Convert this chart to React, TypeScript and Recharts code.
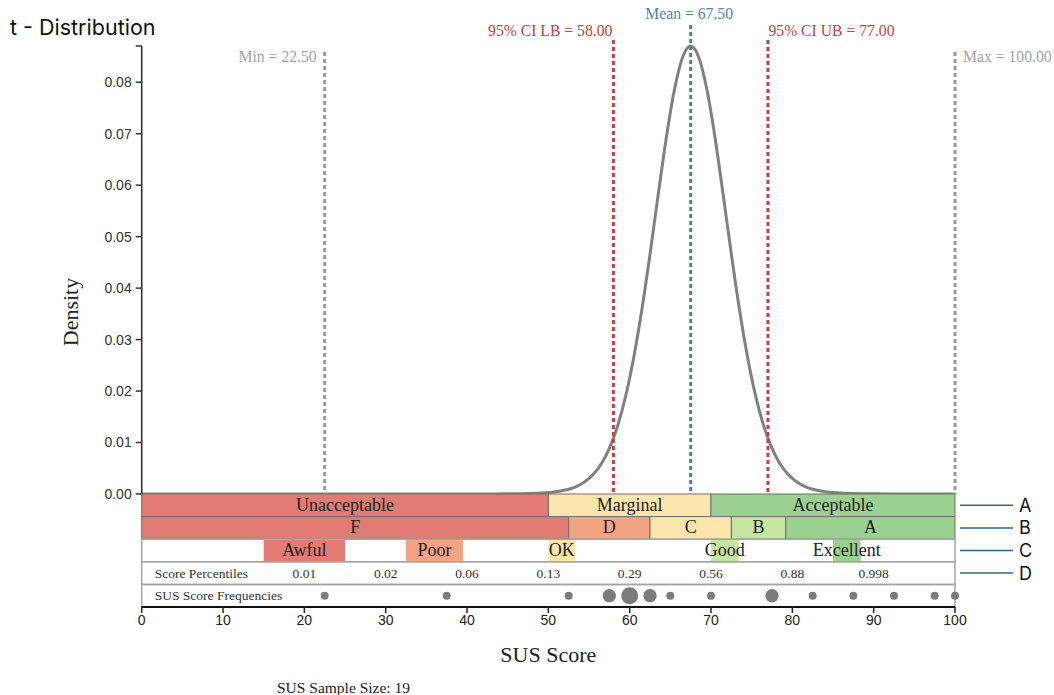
import React from 'react';
import {
  ComposedChart,
  Line,
  XAxis,
  YAxis,
  ZAxis,
  ReferenceLine,
  ReferenceArea,
  Scatter,
} from 'recharts';

// ---------- data ----------
const curveScores = [
  0, 10, 20, 30, 35, 40, 42.5, 45, 47.5, 49.5, 51.5, 52.5, 53.5, 54.5, 55.5, 56.5, 57.5, 58.5,
  59.5, 60.5, 61.5, 62.5, 63.5, 64.5, 65.5, 66.5, 67.5, 68.5, 69.5, 70.5, 71.5, 72.5, 73.5,
  74.5, 75.5, 76.5, 77.5, 78.5, 79.5, 80.5, 81.5, 82.5, 83.5, 85.5, 87.5, 90, 92.5, 95, 100,
];
const curveDensities = [
  0, 0, 0, 0, 0, 0, 0.00001, 0.00003, 0.00008, 0.00022, 0.00058, 0.00093, 0.0015, 0.0024,
  0.00377, 0.00584, 0.00886, 0.01314, 0.01896, 0.02653, 0.03584, 0.0466, 0.05808, 0.06918,
  0.07854, 0.08482, 0.08704, 0.08482, 0.07854, 0.06918, 0.05808, 0.0466, 0.03584, 0.02653,
  0.01896, 0.01314, 0.00886, 0.00584, 0.00377, 0.0024, 0.0015, 0.00093, 0.00058, 0.00022,
  0.00008, 0.00003, 0.00001, 0, 0,
];

const yTickValues = [0, 0.01, 0.02, 0.03, 0.04, 0.05, 0.06, 0.07, 0.08];
const xTickValues = [0, 10, 20, 30, 40, 50, 60, 70, 80, 90, 100];

const statNames = ['Min', '95% CI LB', 'Mean', '95% CI UB', 'Max'];
const statValues = [22.5, 58, 67.5, 77, 100];

const acceptLabels = ['Unacceptable', 'Marginal', 'Acceptable'];
const acceptStarts = [0, 50, 70];
const acceptEnds = [50, 70, 100];

const gradeLabels = ['F', 'D', 'C', 'B', 'A'];
const gradeStarts = [0, 52.5, 62.5, 72.5, 79.2];
const gradeEnds = [52.5, 62.5, 72.5, 79.2, 100];

const adjLabels = ['Awful', 'Poor', 'OK', 'Good', 'Excellent'];
const adjStarts = [15, 32.5, 50, 70, 85];
const adjEnds = [25, 39.5, 53.3, 73.4, 88.4];

const pctScores = [20, 30, 40, 50, 60, 70, 80, 90];
const pctLabels = ['0.01', '0.02', '0.06', '0.13', '0.29', '0.56', '0.88', '0.998'];

const freqScores = [22.5, 37.5, 52.5, 57.5, 60, 62.5, 65, 70, 77.5, 82.5, 87.5, 92.5, 97.5, 100];
const freqCounts = [1, 1, 1, 2, 3, 2, 1, 1, 2, 1, 1, 1, 1, 1];

const sampleSize = 19;
const rowMarkers = ['A', 'B', 'C', 'D'];

// ---------- derived tables ----------
const curveData = curveScores.map((x, i) => ({ x, density: curveDensities[i] }));
const yMax = Math.max(...curveDensities);
const yTicks = [...yTickValues, yMax];
const pctData = pctScores.map((x, i) => ({ x, y: 3.5, label: pctLabels[i] }));
const freqData = freqScores.map((x, i) => ({ x, y: 4.5, n: freqCounts[i] }));

// ---------- styles ----------
const SERIF = '"Liberation Serif", "Times New Roman", serif';
const SANS = '"Liberation Sans", Arial, sans-serif';
const RED = '#E27B73';
const SALMON = '#F4A384';
const YELLOW = '#FDE6AB';
const LGREEN = '#C6E5A0';
const GREEN = '#9BD190';
const acceptColors = [RED, YELLOW, GREEN];
const gradeColors = [RED, SALMON, YELLOW, LGREEN, GREEN];
const adjColors = [RED, SALMON, YELLOW, LGREEN, GREEN];

type StatStyle = {
  color: string;
  textColor: string;
  topOffset: number;
  dx: number;
  dy: number;
  anchor: 'start' | 'middle' | 'end';
};
const statStyles: StatStyle[] = [
  { color: '#9a9a9a', textColor: '#a3a3a3', topOffset: 6, dx: -8, dy: 10, anchor: 'end' },
  { color: '#D23A3E', textColor: '#C9403F', topOffset: -6, dx: -1, dy: -4.5, anchor: 'end' },
  { color: '#4A7DB2', textColor: '#5B82AD', topOffset: -21, dx: -1.5, dy: -6.5, anchor: 'middle' },
  { color: '#D23A3E', textColor: '#C9403F', topOffset: -6, dx: 0.5, dy: -4.5, anchor: 'start' },
  { color: '#9a9a9a', textColor: '#a3a3a3', topOffset: 6, dx: 8, dy: 10, anchor: 'start' },
];

const makeStatShape = (name: string, value: number, st: StatStyle) => (props: any) => {
  const { x1, y1, y2 } = props;
  const top = Math.min(y1, y2);
  const bottom = Math.max(y1, y2);
  const lineTop = top + st.topOffset;
  return (
    <g>
      <line
        x1={x1}
        x2={x1}
        y1={lineTop}
        y2={bottom}
        stroke={st.color}
        strokeWidth={3}
        strokeDasharray="4 3"
      />
      <text
        x={x1 + st.dx}
        y={lineTop + st.dy}
        textAnchor={st.anchor}
        fill={st.textColor}
        fontFamily={SERIF}
        fontSize={15.7}
      >
        {`${name} = ${value.toFixed(2)}`}
      </text>
    </g>
  );
};

const PLOT_LEFT = 141.7;
const PLOT_RIGHT_MARGIN = 1054 - 955;
const BAND_TOP = 494;
const ROW_H = 22.6;
const bandLabelStyle = { position: 'center', fontSize: 18, fill: '#222', fontFamily: SERIF, dy: -1 };

export default function App() {
  return (
    <div
      style={{
        position: 'absolute',
        left: 0,
        top: 0,
        width: 1054,
        height: 695,
        background: '#fff',
        overflow: 'hidden',
      }}
    >
      {/* density chart */}
      <div style={{ position: 'absolute', left: 0, top: 0 }}>
        <ComposedChart
          width={1054}
          height={512}
          data={curveData}
          margin={{ top: 46, right: PLOT_RIGHT_MARGIN, bottom: 18, left: PLOT_LEFT - 80 }}
        >
          <XAxis type="number" dataKey="x" domain={[0, 100]} hide height={0} />
          <YAxis
            type="number"
            width={80}
            domain={[0, yMax]}
            ticks={yTicks}
            interval={0}
            tickMargin={4}
            tickFormatter={(v: number) => (v === yMax ? '' : v.toFixed(2))}
            tick={{ fontSize: 14, fill: '#333', fontFamily: SANS }}
            tickLine={{ stroke: '#333', strokeWidth: 1.5 }}
            axisLine={{ stroke: '#333', strokeWidth: 1.6 }}
          />
          <Line
            type="monotone"
            dataKey="density"
            stroke="#808080"
            strokeWidth={3}
            dot={false}
            activeDot={false}
            isAnimationActive={false}
          />
          {statValues.map((v, i) => (
            <ReferenceLine
              key={statNames[i]}
              x={v}
              stroke={statStyles[i].color}
              shape={makeStatShape(statNames[i], v, statStyles[i])}
            />
          ))}
        </ComposedChart>
      </div>

      {/* bands chart */}
      <div style={{ position: 'absolute', left: 0, top: BAND_TOP - 4 }}>
        <ComposedChart
          width={1054}
          height={205}
          margin={{ top: 4, right: PLOT_RIGHT_MARGIN, bottom: 0, left: PLOT_LEFT }}
        >
          <XAxis
            type="number"
            dataKey="x"
            domain={[0, 100]}
            ticks={xTickValues}
            interval={0}
            height={88}
            tick={{ fontSize: 14, fill: '#222', fontFamily: SANS }}
            tickLine={{ stroke: '#222', strokeWidth: 1.5 }}
            axisLine={{ stroke: '#111', strokeWidth: 2 }}
            label={{
              value: 'SUS Score',
              position: 'insideTop',
              offset: 39,
              fontSize: 22,
              fill: '#222',
              fontFamily: SERIF,
            }}
          />
          <YAxis type="number" dataKey="y" domain={[0, 5]} reversed hide width={0} />
          <ZAxis type="number" dataKey="n" domain={[1, 3]} range={[50, 227]} />

          {acceptLabels.map((lab, i) => (
            <ReferenceArea
              key={'a' + lab}
              x1={acceptStarts[i]}
              x2={acceptEnds[i]}
              y1={0}
              y2={1}
              fill={acceptColors[i]}
              fillOpacity={1}
              stroke="#6e6e6e"
              strokeWidth={1}
              label={{ value: lab, ...bandLabelStyle } as any}
            />
          ))}
          {gradeLabels.map((lab, i) => (
            <ReferenceArea
              key={'g' + lab}
              x1={gradeStarts[i]}
              x2={gradeEnds[i]}
              y1={1}
              y2={2}
              fill={gradeColors[i]}
              fillOpacity={1}
              stroke="#6e6e6e"
              strokeWidth={1}
              label={{ value: lab, ...bandLabelStyle } as any}
            />
          ))}
          {adjLabels.map((lab, i) => (
            <ReferenceArea
              key={'j' + lab}
              x1={adjStarts[i]}
              x2={adjEnds[i]}
              y1={2}
              y2={3}
              fill={adjColors[i]}
              fillOpacity={1}
              stroke="none"
              label={{ value: lab, ...bandLabelStyle } as any}
            />
          ))}
          <ReferenceArea x1={0} x2={100} y1={2} y2={3} fill="none" stroke="#a5a5a5" strokeWidth={1.5} />
          <ReferenceArea
            x1={0}
            x2={100}
            y1={3}
            y2={4}
            fill="none"
            stroke="#a5a5a5"
            strokeWidth={1.5}
            label={{
              value: 'Score Percentiles',
              position: 'insideLeft',
              offset: 13,
              fontSize: 13.5,
              fill: '#333',
              fontFamily: SERIF,
            }}
          />
          <ReferenceArea
            x1={0}
            x2={100}
            y1={4}
            y2={5}
            fill="none"
            stroke="#a5a5a5"
            strokeWidth={1.5}
            label={{
              value: 'SUS Score Frequencies',
              position: 'insideLeft',
              offset: 13,
              fontSize: 13.5,
              fill: '#333',
              fontFamily: SERIF,
            }}
          />
          <Scatter
            data={pctData}
            isAnimationActive={false}
            shape={(p: any) => (
              <text
                x={p.cx}
                y={p.cy}
                textAnchor="middle"
                dominantBaseline="central"
                fontSize={13.5}
                fill="#333"
                fontFamily={SERIF}
              >
                {p.payload.label}
              </text>
            )}
          />
          <Scatter data={freqData} fill="#7b7b7b" isAnimationActive={false} />
        </ComposedChart>
      </div>

      {/* annotations */}
      <svg
        width={1054}
        height={695}
        style={{ position: 'absolute', left: 0, top: 0, pointerEvents: 'none' }}
      >
        <text x={10} y={35} fontFamily="Inter, 'Noto Sans', sans-serif" fontSize={21.5} fill="#111">
          t - Distribution
        </text>
        <text
          transform="translate(70,312) rotate(-90)"
          textAnchor="middle"
          dominantBaseline="central"
          fontFamily={SERIF}
          fontSize={22}
          fill="#222"
        >
          Density
        </text>
        {rowMarkers.map((m, i) => {
          const cy = BAND_TOP + ROW_H * (i + 0.5);
          return (
            <g key={m}>
              <line x1={960} x2={1013} y1={cy} y2={cy} stroke="#2B6A90" strokeWidth={1.5} />
              <text x={1019} y={cy + 6.5} fontFamily="Inter, 'Noto Sans', sans-serif" fontSize={18} fill="#111">
                {m}
              </text>
            </g>
          );
        })}
        <text x={277} y={693} fontFamily={SERIF} fontSize={15.5} fill="#222">
          {`SUS Sample Size: ${sampleSize}`}
        </text>
      </svg>
    </div>
  );
}
